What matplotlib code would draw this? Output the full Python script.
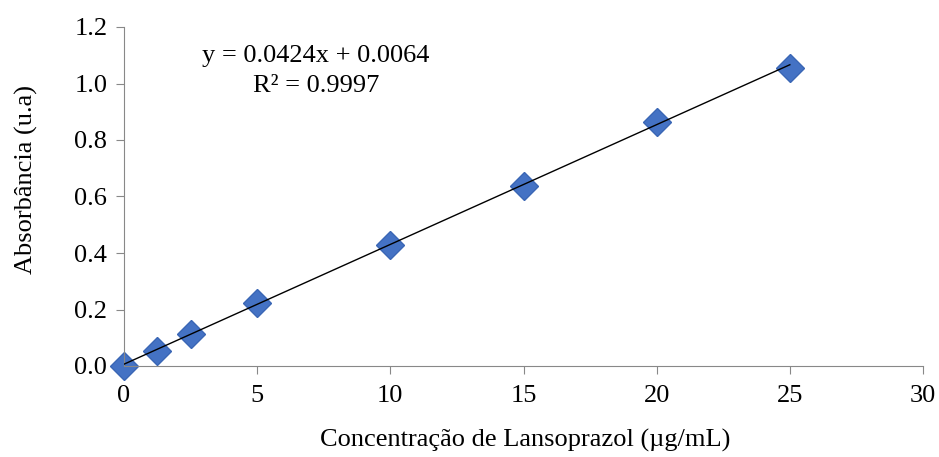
import matplotlib
matplotlib.use("Agg")
import matplotlib.pyplot as plt
import numpy as np

# Calibration data
conc = [0, 1.25, 2.5, 5, 10, 15, 20, 25]
absorb = [0.0, 0.053, 0.112, 0.222, 0.430, 0.636, 0.864, 1.055]
slope = 0.0424
intercept = 0.0064
r2 = 0.9997

plt.rcParams['font.family'] = ['Liberation Serif', 'DejaVu Serif']

fig = plt.figure(figsize=(9.39, 4.57), dpi=100)
ax = fig.add_axes([124/939, (457-366)/457, (923-124)/939, (366-27)/457])

ax.plot(conc, absorb, linestyle='none', marker='D', markersize=14,
        color='#4472C4', markeredgecolor='#3A66B5', zorder=2, clip_on=False)
xfit = np.array([conc[0], conc[-1]])
ax.plot(xfit, slope*xfit + intercept, color='black', linewidth=1, zorder=3)

ax.set_xlim(0, 30)
ax.set_ylim(0, 1.2)
ax.set_xticks(range(0, 31, 5))
ax.set_yticks(np.arange(0, 1.21, 0.2))
ax.set_yticklabels(['%.1f' % v for v in np.arange(0, 1.21, 0.2)])

for s in ['top', 'right']:
    ax.spines[s].set_visible(False)
for s in ['left', 'bottom']:
    ax.spines[s].set_color('#888888')
ax.tick_params(direction='out', length=6, color='#888888', labelsize=19, pad=6)
ax.tick_params(axis='x', pad=8)

ax.set_xlabel('Concentração de Lansoprazol (µg/mL)', fontsize=19)
ax.set_ylabel('Absorbância (u.a)', fontsize=19)
ax.xaxis.set_label_coords(0.502, -0.185)
ax.yaxis.set_label_coords(-0.108, 0.55)

ax.text(0.240, 0.87, 'y = %.4fx + %.4f\nR² = %.4f' % (slope, intercept, r2),
        transform=ax.transAxes, ha='center', va='center', fontsize=19,
        linespacing=1.45)

fig.savefig('out.png', dpi=100)
